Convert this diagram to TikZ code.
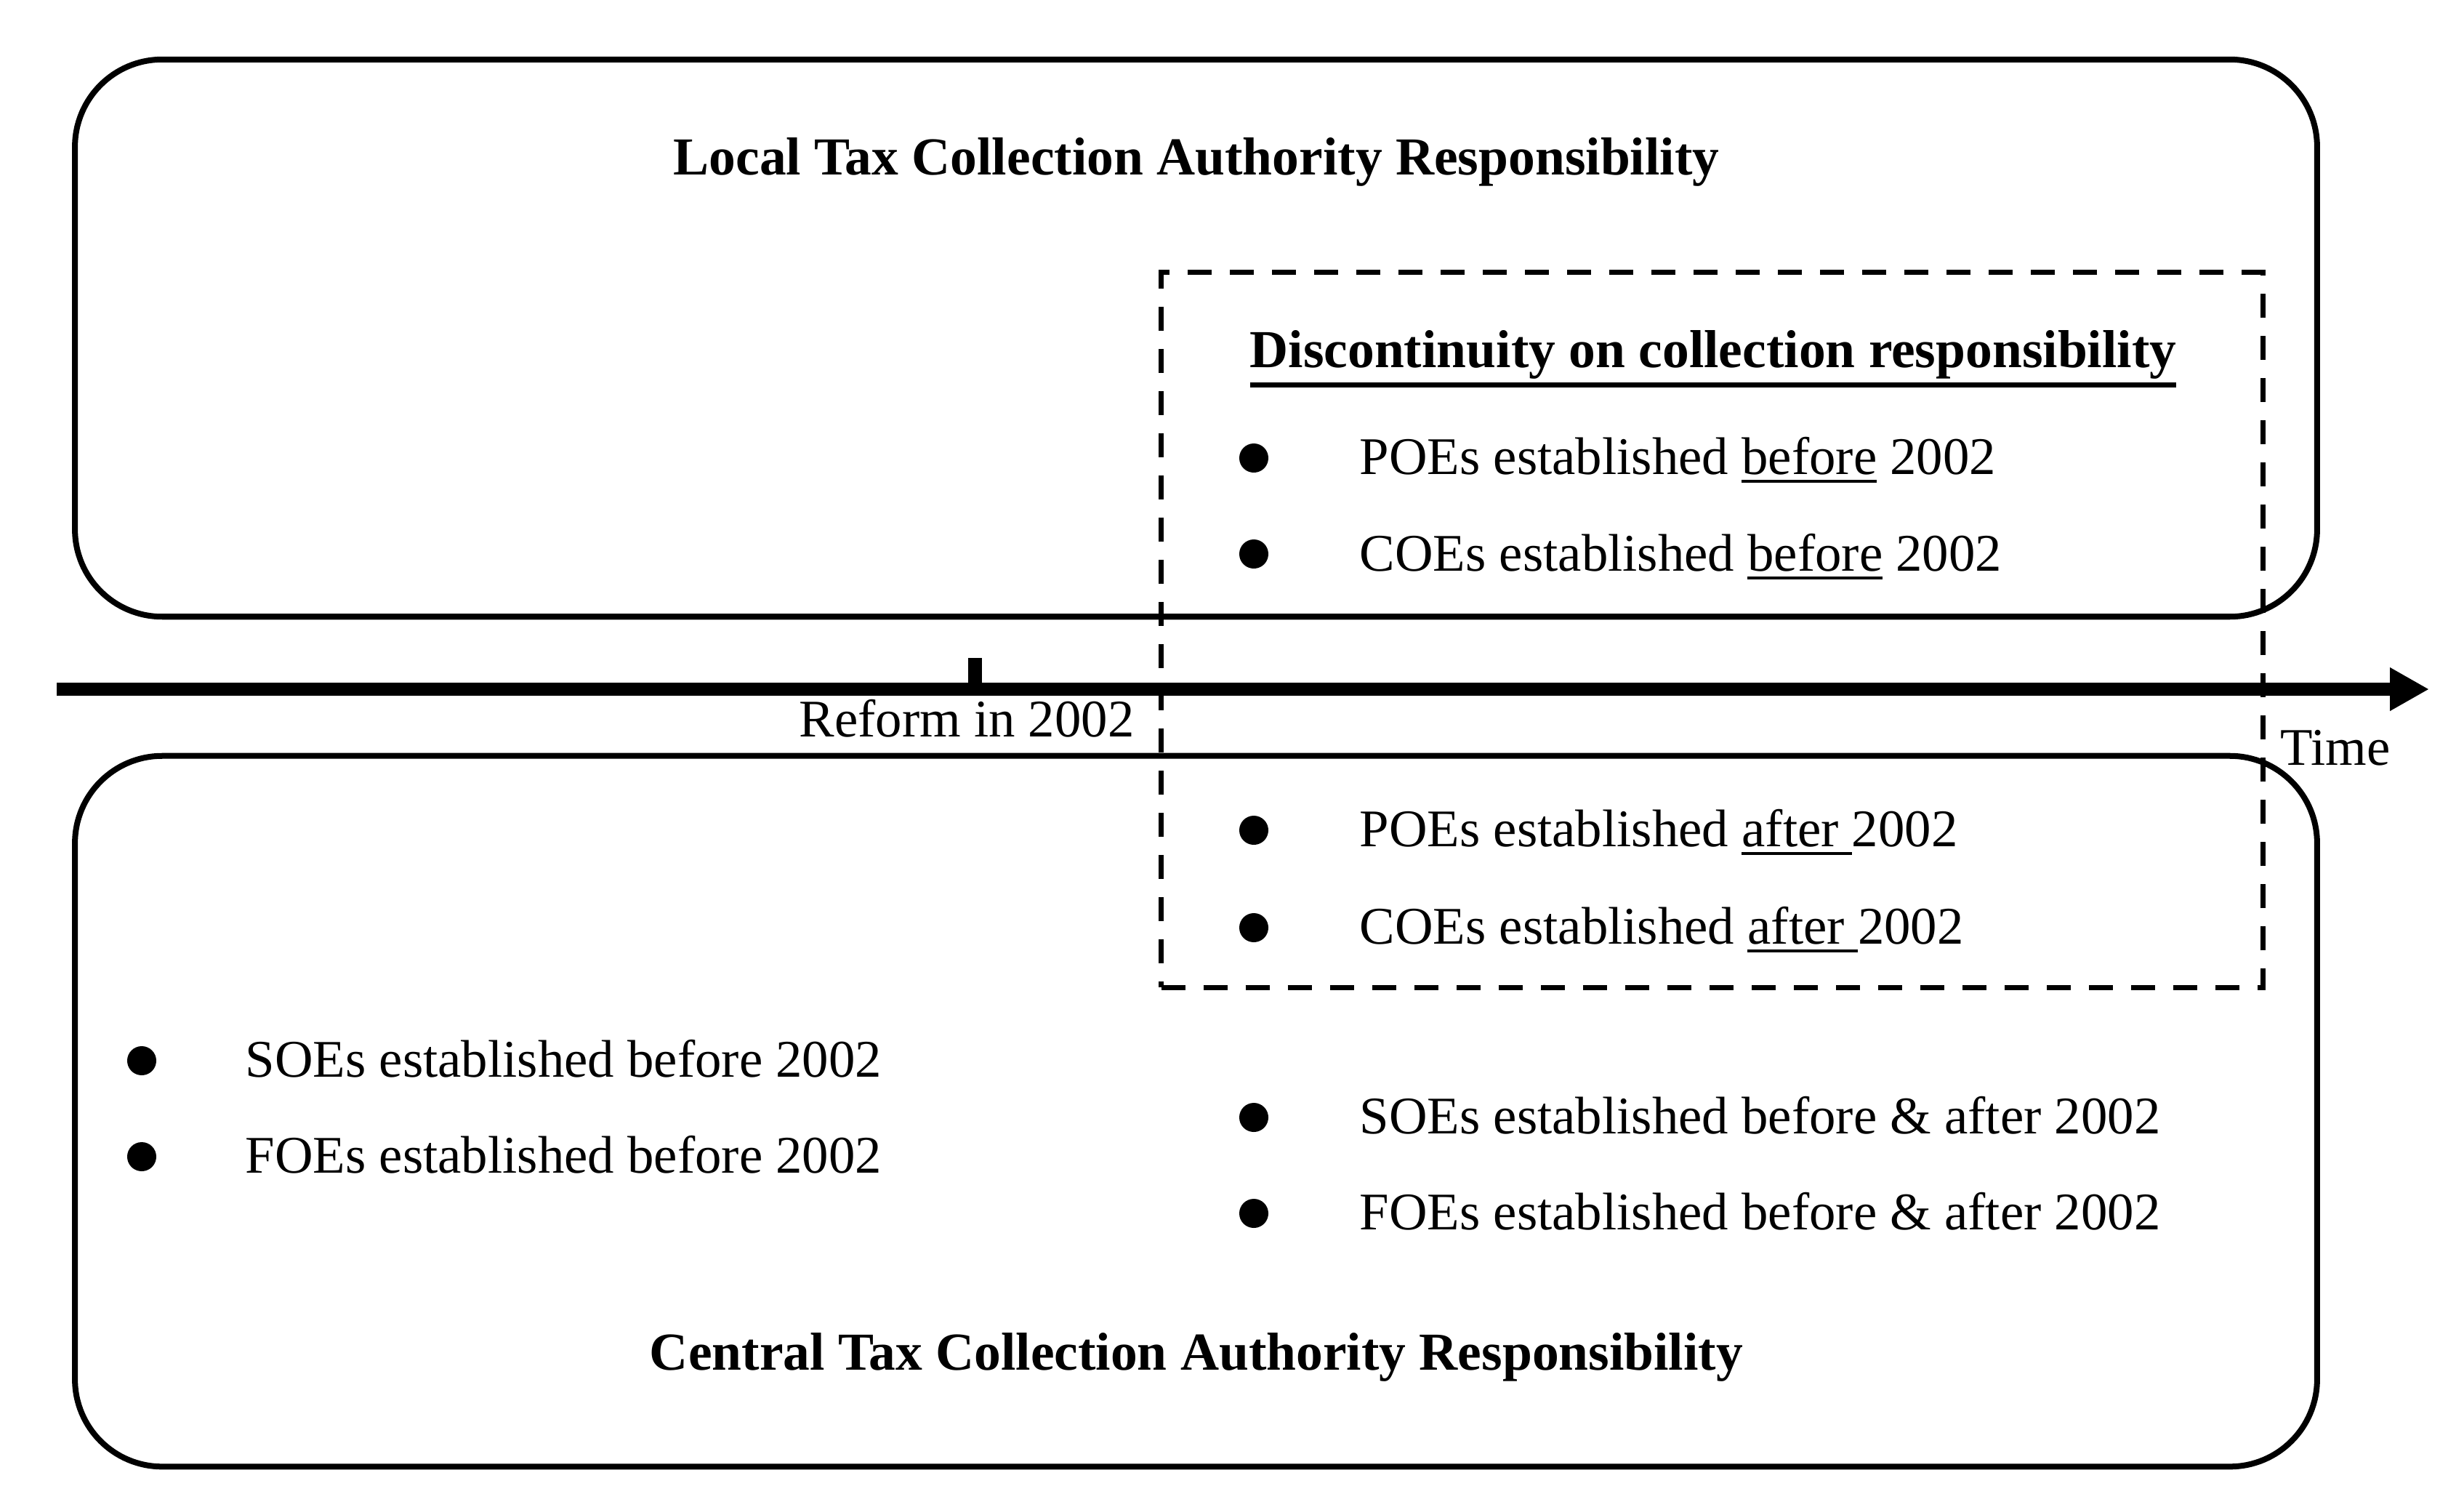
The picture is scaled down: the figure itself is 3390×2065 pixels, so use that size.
\documentclass[tikz,border=0pt]{standalone}
\usepackage{fontspec}
\setmainfont{Liberation Serif}
\usetikzlibrary{arrows.meta}
\newcommand\thickul[1]{\leavevmode\vtop{\hbox{#1}\kern 1.5pt\hrule height 2pt}}
\newcommand\thinul[1]{\leavevmode\vtop{\hbox{#1}\kern 2.2pt\hrule height 0.9pt}}
\begin{document}
\begin{tikzpicture}[x=0.01cm,y=-0.01cm,
  txt/.style={inner sep=0pt, font=\fontsize{20.7}{24}\selectfont},
  ttl/.style={inner sep=0pt, font=\fontsize{20.9}{24}\selectfont\bfseries},
  bul/.style={circle, fill=black, inner sep=0pt, minimum size=0.4cm},
  rbox/.style={draw=black, line width=0.8mm, rounded corners=1.2cm, inner sep=0pt},
  dbox/.style={draw=black, line width=0.75mm, dash pattern=on 3.3mm off 2.5mm, inner sep=0pt}]
\useasboundingbox (0,0) rectangle (3390,2065);
% boxes
\node[rbox, minimum width=30.83cm, minimum height=7.66cm] (local) at (1645.5,465) {};
\node[rbox, minimum width=30.83cm, minimum height=9.77cm] (central) at (1645.5,1528.5) {};
\node[dbox, minimum width=15.15cm, minimum height=9.83cm] (disc) at (2355.5,866.5) {};
% time axis
\coordinate (tstart) at (78,948);
\coordinate (tend) at (3342,948);
\draw[line width=1.8mm, -{Triangle[length=5.4mm, width=5.6mm]}] (tstart) -- (tend);
\fill (1331.5,905) rectangle (1350.5,948);
\node[txt, anchor=base] (reform) at (1330,1013) {Reform in 2002};
\node[txt, anchor=base west] (time) at (3137,1052) {Time};
% titles
\node[ttl, anchor=base] (lt) at (1646,240) {Local Tax Collection Authority Responsibility};
\node[ttl, anchor=base] (ct) at (1646,1884) {Central Tax Collection Authority Responsibility};
\node[ttl, anchor=base] (dt) at (2357,505) {\thickul{Discontinuity on collection responsibility}};
% discontinuity bullets
\node[bul] (b1) at (1725,630) {};
\node[txt, anchor=base west] (t1) at (1870,652) {POEs established \thinul{before} 2002};
\node[bul] (b2) at (1725,762) {};
\node[txt, anchor=base west] (t2) at (1870,785) {COEs established \thinul{before} 2002};
\node[bul] (b3) at (1725,1142) {};
\node[txt, anchor=base west] (t3) at (1870,1164) {POEs established \thinul{after\ }2002};
\node[bul] (b4) at (1725,1276) {};
\node[txt, anchor=base west] (t4) at (1870,1298) {COEs established \thinul{after\ }2002};
% left bullets
\node[bul] (b5) at (195,1459) {};
\node[txt, anchor=base west] (t5) at (337,1481) {SOEs established before 2002};
\node[bul] (b6) at (195,1591) {};
\node[txt, anchor=base west] (t6) at (337,1613) {FOEs established before 2002};
% right bullets
\node[bul] (b7) at (1725,1537) {};
\node[txt, anchor=base west] (t7) at (1870,1559) {SOEs established before \& after 2002};
\node[bul] (b8) at (1725,1669) {};
\node[txt, anchor=base west] (t8) at (1870,1691) {FOEs established before \& after 2002};
\end{tikzpicture}
\end{document}
